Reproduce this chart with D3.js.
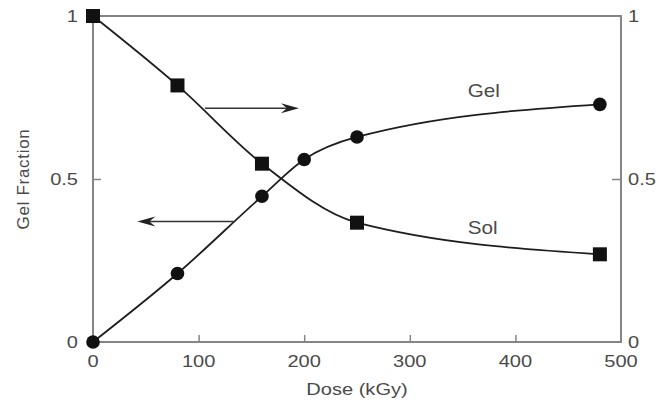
<!DOCTYPE html>
<html>
<head>
<meta charset="utf-8">
<script src="https://cdn.jsdelivr.net/npm/d3@7"></script>
<style>
  html, body { margin: 0; padding: 0; background: #fff; }
  svg { display: block; }
  text { font-family: "Liberation Sans", Arial, Helvetica, sans-serif; fill: #4a4a4a; }
</style>
</head>
<body>
<script>
// ---- data ----
const gelDose = [0, 80, 160, 200, 250, 480];
const gelFraction = [0, 0.21, 0.447, 0.56, 0.629, 0.729];
const solDose = [0, 80, 160, 250, 480];
const solFraction = [1, 0.787, 0.547, 0.366, 0.269];
const xTicks = [0, 100, 200, 300, 400, 500];
const yTicks = [0, 0.5, 1];
const yTickLabels = ["0", "0.5", "1"];
const seriesLabels = ["Gel", "Sol"];
const xTitle = "Dose (kGy)";
const yTitle = "Gel Fraction";

// ---- layout ----
const W = 659, H = 403;
const mLeft = 93, mRight = 621, mTop = 16, mBottom = 342;
const SX = 1.18; // horizontal stretch of glyphs

const svg = d3.select("body").append("svg").attr("width", W).attr("height", H);

const x = d3.scaleLinear().domain([0, 500]).range([mLeft, mRight]);
const y = d3.scaleLinear().domain([0, 1]).range([mBottom, mTop]);

const axisColor = "#858585";
const lineColor = "#1e1e1e";

function label(g, px, py, str, anchor, size) {
  return g.append("text")
    .attr("transform", `translate(${px},${py}) scale(${SX},1)`)
    .attr("text-anchor", anchor)
    .attr("dominant-baseline", "central")
    .style("font-size", size + "px")
    .text(str);
}

// frame
svg.append("rect")
  .attr("x", mLeft).attr("y", mTop)
  .attr("width", mRight - mLeft).attr("height", mBottom - mTop)
  .attr("fill", "none").attr("stroke", axisColor).attr("stroke-width", 2);

// bottom axis (ticks inward)
const xAxis = svg.append("g").attr("transform", `translate(0,${mBottom})`)
  .call(d3.axisBottom(x).tickValues(xTicks).tickSize(-7).tickFormat(""));
xAxis.select(".domain").remove();
xAxis.selectAll(".tick line").attr("stroke", axisColor).attr("stroke-width", 1.5);
xAxis.selectAll(".tick").filter(d => d === 0 || d === 500).select("line").remove();
xTicks.forEach(t => label(svg, x(t), 361, String(t), "middle", 17));

// left axis
const yAxisL = svg.append("g").attr("transform", `translate(${mLeft},0)`)
  .call(d3.axisLeft(y).tickValues(yTicks).tickSize(-8).tickFormat(""));
yAxisL.select(".domain").remove();
yAxisL.selectAll(".tick line").attr("stroke", axisColor).attr("stroke-width", 1.5);
yAxisL.selectAll(".tick").filter(d => d === 0 || d === 1).select("line").remove();
yTicks.forEach((t, i) => label(svg, 78, y(t), yTickLabels[i], "end", 17));

// right axis
const yAxisR = svg.append("g").attr("transform", `translate(${mRight},0)`)
  .call(d3.axisRight(y).tickValues(yTicks).tickSize(-9).tickFormat(""));
yAxisR.select(".domain").remove();
yAxisR.selectAll(".tick line").attr("stroke", axisColor).attr("stroke-width", 1.5);
yAxisR.selectAll(".tick").filter(d => d === 0 || d === 1).select("line").remove();
yTicks.forEach((t, i) => label(svg, 628, y(t), yTickLabels[i], "start", 17));

// axis titles
label(svg, 357, 389, xTitle, "middle", 17);
svg.append("text")
  .attr("transform", `translate(23,${y(0.5)}) rotate(-90)`)
  .attr("text-anchor", "middle")
  .attr("dominant-baseline", "central")
  .style("font-size", "17px")
  .style("letter-spacing", "0.7px")
  .text(yTitle);

// lines
const gelData = gelDose.map((d, i) => [d, gelFraction[i]]);
const solData = solDose.map((d, i) => [d, solFraction[i]]);
const line = d3.line().x(d => x(d[0])).y(d => y(d[1])).curve(d3.curveMonotoneX);

svg.append("path").attr("d", line(gelData))
  .attr("fill", "none").attr("stroke", lineColor).attr("stroke-width", 1.8);
svg.append("path").attr("d", line(solData))
  .attr("fill", "none").attr("stroke", lineColor).attr("stroke-width", 1.8);

// markers
svg.selectAll("circle.gel").data(gelData).enter().append("circle")
  .attr("cx", d => x(d[0])).attr("cy", d => y(d[1])).attr("r", 6.8)
  .attr("fill", "#111");
const sq = 14;
svg.selectAll("rect.sol").data(solData).enter().append("rect")
  .attr("x", d => x(d[0]) - sq / 2).attr("y", d => y(d[1]) - sq / 2)
  .attr("width", sq).attr("height", sq).attr("fill", "#111");

// series labels
label(svg, x(370), y(0.77), seriesLabels[0], "middle", 17.5);
label(svg, x(369), y(0.35), seriesLabels[1], "middle", 17.5);

// arrows (annotation: which axis each curve belongs to)
function arrow(x1, x2, yv) {
  const py = y(yv);
  const ax1 = x(x1), ax2 = x(x2);
  const dir = Math.sign(ax2 - ax1);
  svg.append("line").attr("x1", ax1).attr("y1", py).attr("x2", ax2 - dir * 6).attr("y2", py)
    .attr("stroke", "#333").attr("stroke-width", 1.5);
  const L = 18, hw = 5, notch = 12;
  const pts = [
    [ax2, py],
    [ax2 - dir * L, py - hw],
    [ax2 - dir * notch, py],
    [ax2 - dir * L, py + hw]
  ];
  svg.append("path").attr("d", "M" + pts.map(p => p.join(",")).join("L") + "Z")
    .attr("fill", "#222");
}
arrow(106, 195, 0.717);
arrow(133, 42, 0.37);
</script>
</body>
</html>
